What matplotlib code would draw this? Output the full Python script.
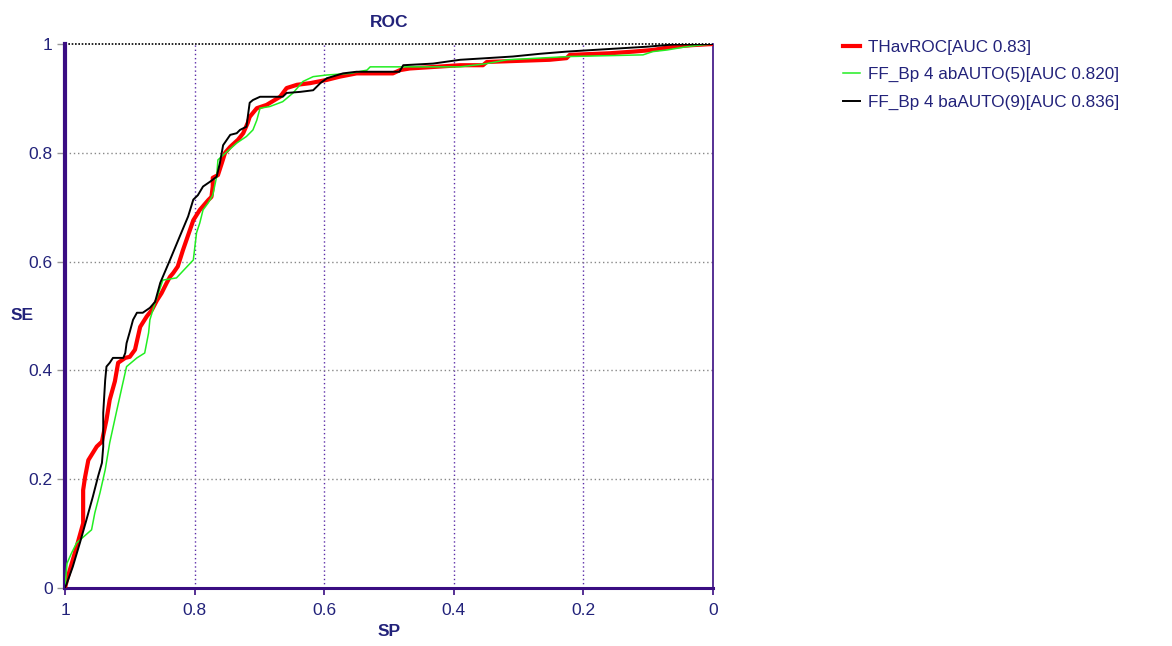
import matplotlib
matplotlib.use("Agg")
import matplotlib.pyplot as plt
from matplotlib.ticker import FixedLocator

# ---- data ----
red_sp = [1.0, 0.997, 0.982, 0.972, 0.972, 0.969, 0.964, 0.951, 0.943, 0.941, 0.936, 0.931, 0.923,
          0.918, 0.907, 0.900, 0.892, 0.884, 0.874, 0.866, 0.858, 0.851, 0.843, 0.838, 0.833, 0.826,
          0.818, 0.802, 0.792, 0.779, 0.774, 0.772, 0.772, 0.764, 0.758, 0.753, 0.745, 0.733, 0.725,
          0.718, 0.715, 0.704, 0.689, 0.668, 0.658, 0.642, 0.622, 0.596, 0.576, 0.550, 0.494, 0.483,
          0.468, 0.390, 0.355, 0.349, 0.252, 0.226, 0.221, 0.159, 0.123, 0.093, 0.062, 0.031, 0.0]
red_se = [0.0, 0.015, 0.076, 0.119, 0.180, 0.204, 0.235, 0.260, 0.269, 0.281, 0.309, 0.346, 0.380,
          0.414, 0.423, 0.425, 0.438, 0.480, 0.499, 0.511, 0.529, 0.542, 0.561, 0.572, 0.579, 0.591,
          0.621, 0.676, 0.695, 0.713, 0.719, 0.738, 0.754, 0.759, 0.781, 0.800, 0.811, 0.824, 0.836,
          0.855, 0.866, 0.882, 0.888, 0.903, 0.919, 0.925, 0.928, 0.934, 0.940, 0.946, 0.946, 0.952,
          0.955, 0.961, 0.961, 0.967, 0.971, 0.974, 0.980, 0.983, 0.986, 0.989, 0.995, 0.998, 1.0]

green_sp = [1.0, 0.997, 0.990, 0.982, 0.959, 0.954, 0.946, 0.938, 0.931, 0.920, 0.912, 0.905, 0.889,
            0.877, 0.871, 0.869, 0.861, 0.849, 0.828, 0.802, 0.797, 0.792, 0.787, 0.779, 0.772, 0.766,
            0.764, 0.750, 0.735, 0.720, 0.710, 0.704, 0.699, 0.684, 0.664, 0.648, 0.633, 0.617, 0.596,
            0.560, 0.534, 0.529, 0.390, 0.349, 0.318, 0.221, 0.108, 0.093, 0.071, 0.041, 0.020, 0.0]
green_se = [0.0, 0.045, 0.064, 0.083, 0.107, 0.138, 0.175, 0.217, 0.267, 0.327, 0.370, 0.407, 0.423,
            0.432, 0.469, 0.493, 0.524, 0.566, 0.570, 0.603, 0.653, 0.671, 0.695, 0.708, 0.722, 0.756,
            0.787, 0.802, 0.818, 0.830, 0.842, 0.860, 0.882, 0.885, 0.894, 0.910, 0.931, 0.940, 0.943,
            0.946, 0.952, 0.958, 0.958, 0.964, 0.971, 0.977, 0.980, 0.986, 0.989, 0.995, 0.998, 1.0]

black_sp = [1.0, 0.997, 0.988, 0.977, 0.967, 0.957, 0.949, 0.943, 0.941, 0.941, 0.938, 0.936, 0.931,
            0.926, 0.910, 0.907, 0.905, 0.900, 0.895, 0.889, 0.880, 0.869, 0.861, 0.853, 0.838, 0.823,
            0.810, 0.802, 0.795, 0.787, 0.776, 0.766, 0.761, 0.756, 0.745, 0.735, 0.730, 0.720, 0.715,
            0.710, 0.699, 0.664, 0.658, 0.637, 0.617, 0.606, 0.596, 0.571, 0.550, 0.484, 0.478, 0.432,
            0.390, 0.349, 0.309, 0.267, 0.226, 0.185, 0.144, 0.102, 0.062, 0.0]
black_se = [0.0, 0.009, 0.039, 0.083, 0.125, 0.168, 0.205, 0.230, 0.260, 0.322, 0.382, 0.407, 0.414,
            0.423, 0.423, 0.432, 0.450, 0.471, 0.493, 0.506, 0.506, 0.515, 0.526, 0.561, 0.603, 0.646,
            0.683, 0.714, 0.722, 0.738, 0.747, 0.756, 0.781, 0.814, 0.833, 0.836, 0.842, 0.848, 0.892,
            0.897, 0.903, 0.903, 0.910, 0.912, 0.915, 0.928, 0.937, 0.946, 0.949, 0.949, 0.961, 0.964,
            0.971, 0.974, 0.977, 0.982, 0.986, 0.989, 0.992, 0.995, 0.999, 1.0]

labels = ["THavROC[AUC 0.83]", "FF_Bp 4 abAUTO(5)[AUC 0.820]", "FF_Bp 4 baAUTO(9)[AUC 0.836]"]
x_ticks = [1.0, 0.8, 0.6, 0.4, 0.2, 0.0]
x_tick_labels = ["1", "0.8", "0.6", "0.4", "0.2", "0"]
y_ticks = [0.0, 0.2, 0.4, 0.6, 0.8, 1.0]
y_tick_labels = ["0", "0.2", "0.4", "0.6", "0.8", "1"]

navy = "#22227a"
purple = "#3a0d82"

plt.rcParams['font.family'] = ['Liberation Sans', 'DejaVu Sans']

fig = plt.figure(figsize=(11.72, 6.46), dpi=100)
ax = fig.add_axes([65/1172, 1 - 588/646, (713-65)/1172, (588-44)/646])

ax.plot(red_sp, red_se, color="#ff0000", lw=3.0, label=labels[0], zorder=3)
ax.plot(green_sp, green_se, color="#22ee22", lw=1.1, label=labels[1], zorder=4)
ax.plot(black_sp, black_se, color="#000000", lw=1.4, label=labels[2], zorder=5)

ax.set_xlim(1, 0)
ax.set_ylim(0, 1)
ax.xaxis.set_major_locator(FixedLocator(x_ticks))
ax.set_xticklabels(x_tick_labels)
ax.yaxis.set_major_locator(FixedLocator(y_ticks))
ax.set_yticklabels(y_tick_labels)

ax.tick_params(axis='x', colors=purple, length=5, width=1.2, labelsize=12.5, labelcolor=navy, pad=6)
ax.tick_params(axis='y', colors="#999999", length=6, width=1.0, labelsize=12.5, labelcolor=navy, pad=3)

# grid
for v in x_ticks[1:-1]:
    ax.axvline(v, color="#5b2ca8", lw=1.0, ls=(0, (1, 2)), zorder=1)
for v in y_ticks[1:-1]:
    ax.axhline(v, color="#888888", lw=1.0, ls=(0, (1, 2)), zorder=1)
ax.axhline(1.0, color="#000000", lw=1.2, ls=(0, (1, 1)), zorder=2, clip_on=False)

ax.spines["top"].set_visible(False)
ax.spines["left"].set_color(purple)
ax.spines["left"].set_linewidth(3.0)
ax.spines["bottom"].set_color(purple)
ax.spines["bottom"].set_linewidth(2.2)
ax.spines["right"].set_color(purple)
ax.spines["right"].set_linewidth(1.2)

ax.set_title("ROC", fontsize=12.5, fontweight="bold", color=navy, pad=12)
ax.set_xlabel("SP", fontsize=12.5, fontweight="bold", color=navy, labelpad=4)
fig.text(22/1172, 1 - 316/646, "SE", fontsize=12.5, fontweight="bold", color=navy,
         ha="center", va="center")

leg = fig.legend(loc="upper left", bbox_to_anchor=(836/1172, 1 - 33/646), frameon=False,
                 fontsize=12.3, handlelength=1.0, handletextpad=0.5, labelspacing=0.72,
                 borderaxespad=0)
for t in leg.get_texts():
    t.set_color(navy)

fig.savefig("out.png", dpi=100)
